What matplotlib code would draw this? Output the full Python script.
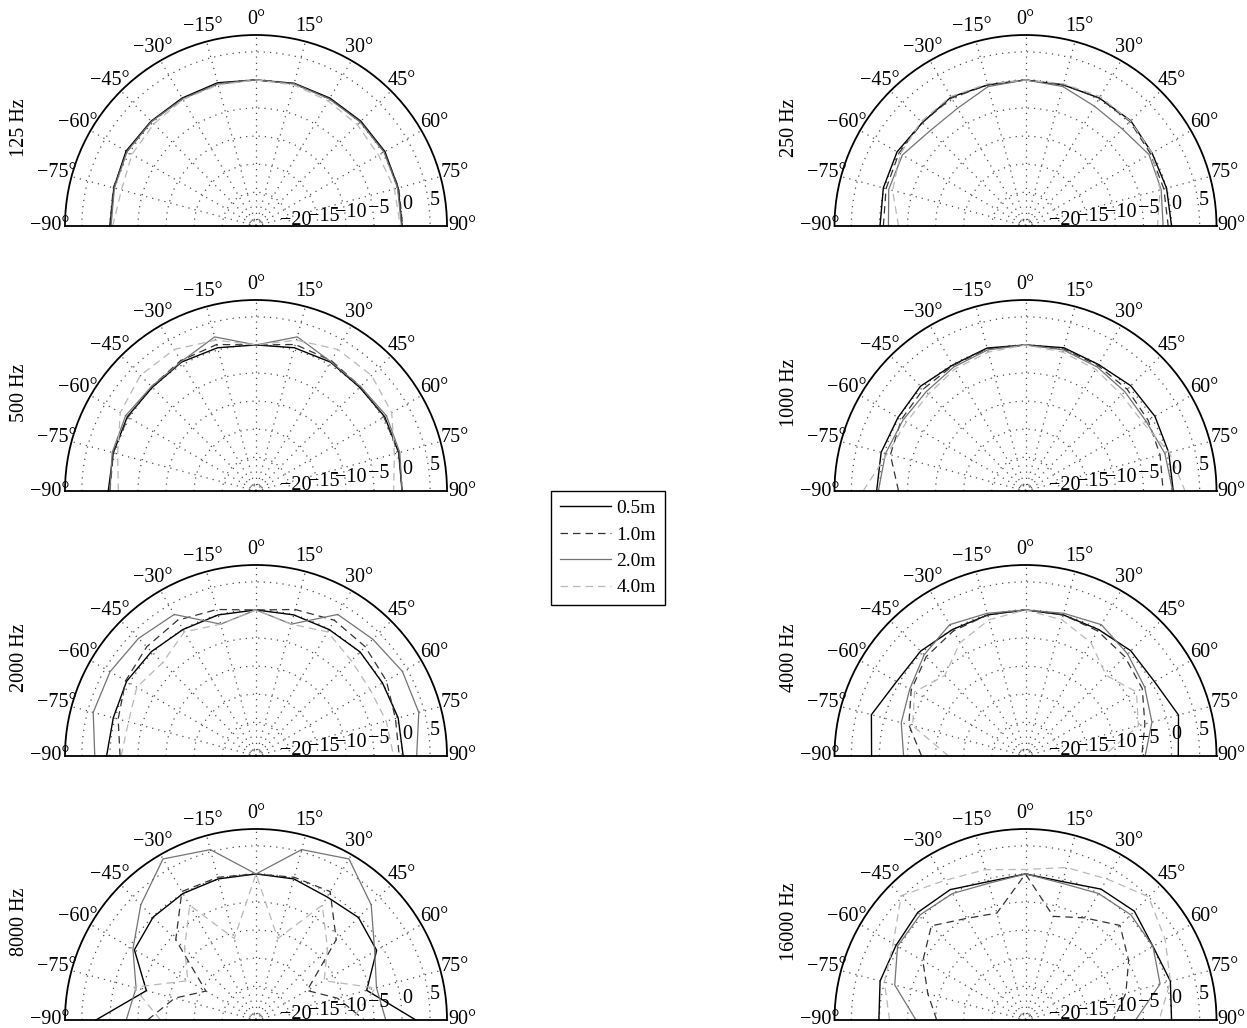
import numpy as np
import matplotlib
matplotlib.use("Agg")
import matplotlib.pyplot as plt
from matplotlib.lines import Line2D

plt.rcParams['font.family'] = ['Liberation Serif', 'DejaVu Serif']

# ---------------- data (dB, normalised at 0 deg) ----------------
angles_deg = [-90, -75, -60, -45, -30, -15, 0, 15, 30, 45, 60, 75, 90]
distances = ['0.5m', '1.0m', '2.0m', '4.0m']
freq_labels = ['125 Hz', '250 Hz', '500 Hz', '1000 Hz',
               '2000 Hz', '4000 Hz', '8000 Hz', '16000 Hz']

f125_05 = [0.0, 0.2, 0.7, 0.4, 0.3, 0.4, 0, 0.3, 0.3, 0.4, 0.5, 0.2, 0.0]
f125_10 = [0.0, 0.3, 0.5, 0.3, 0.2, 0.2, 0, 0.2, 0.2, 0.3, 0.4, 0.3, 0.1]
f125_20 = [-0.2, 0.1, 0.5, 0.3, 0.1, 0.2, 0, 0.2, 0.1, 0.2, 0.3, 0.1, -0.1]
f125_40 = [-0.5, -1.2, -0.5, -0.3, 0.0, 0.0, 0, 0.0, -0.3, -0.5, -0.8, -0.5, -0.3]

f250_05 = [-0.1, 0.2, 0.4, 0.0, 0.5, 0.0, 0, 0.0, 0.3, 0.5, 0.0, 0.0, 0.0]
f250_10 = [-0.7, -0.3, 0.0, 0.0, 0.3, 0.0, 0, 0.0, 0.3, 0.3, -0.3, -0.5, -0.6]
f250_20 = [-1.6, -0.8, -0.7, -2.0, -1.8, -0.3, 0, -0.3, -1.4, -1.6, -0.6, -1.0, -1.5]
f250_40 = [-3.4, -1.5, -0.3, 0.3, 0.6, 0.2, 0, 0.2, 0.6, 0.4, 0.0, -1.2, -2.5]

f500_05 = [0.3, 0.3, 0.45, 0.1, 0.5, 0.4, 0, 0.4, 0.5, 0.1, 0.45, 0.3, 0.0]
f500_10 = [0.0, 0.3, 0.3, 0.3, 0.8, 1.0, 0, 1.0, 0.8, 0.3, 0.3, 0.3, 0.0]
f500_20 = [0.0, 0.5, 0.8, 0.3, 0.6, 2.4, 0, 2.4, 0.6, 0.3, 0.8, 0.5, 0.0]
f500_40 = [-1.5, -0.5, 1.9, 3.1, 3.1, 1.8, 0, 1.8, 3.1, 3.1, 1.9, -0.5, -1.5]

f1000_05 = [0.5, 0.6, 0.2, 0.4, -0.1, 0.35, 0, 0.4, 0.0, 0.5, 0.6, 0.4, 0.3]
f1000_10 = [-3.4, -1.1, -0.5, -0.3, -0.2, 0.2, 0, 0.2, -0.2, -0.4, -0.8, -1.2, -1.5]
f1000_20 = [0.2, -0.2, -0.8, -1.0, -0.5, 0.0, 0, 0.0, -0.5, -1.0, -1.2, -0.3, 0.2]
f1000_40 = [2.9, -0.5, -1.5, -1.6, -0.9, -0.4, 0, -0.4, -1.0, -1.8, -1.8, 0.5, 2.4]

f2000_05 = [0.6, 0.3, 0.6, 0.3, 0.0, 0.0, 0, 0.0, 0.0, 0.2, 0.0, 0.2, 0.2]
f2000_10 = [-1.8, -0.6, 0.8, 1.5, 1.9, 1.0, 0, 1.0, 1.9, 1.5, 0.8, -0.3, -0.5]
f2000_20 = [2.7, 4.0, 4.0, 3.6, 3.1, -1.7, 0, -1.7, 3.1, 3.4, 4.1, 4.0, 2.6]
f2000_40 = [-2.0, -2.5, -1.5, -2.5, -0.5, -1.7, 0, -1.7, -0.5, -2.0, -2.5, -2.0, -1.5]

f4000_05 = [1.4, 2.4, 0.5, 0.4, 0.0, 0.0, 0, 0.0, 0.0, 0.5, 0.5, 2.2, 1.2]
f4000_10 = [-7.5, -4.5, -2.5, -1.0, -0.3, 0.0, 0, 0.0, -0.3, -1.0, -2.0, -4.0, -5.3]
f4000_20 = [-4.3, -3.1, -2.2, -0.5, 1.0, 0.3, 0, 0.3, 1.0, -0.3, -1.5, -2.7, -4.7]
f4000_40 = [-12.3, -5.2, -3.2, -5.7, -2.7, -0.9, 0, -0.9, -2.7, -5.7, -3.2, -5.2, -12.1]

f8000_05 = [2.5, -5.8, -1.0, -0.1, 0.0, 0.0, 0, 0.0, -0.7, -0.2, -1.2, -5.6, 2.45]
f8000_10 = [-6.7, -11.0, -15.7, -5.8, 0.4, 0.3, 0, 0.3, 0.4, -5.8, -15.5, -11.0, -6.7]
f8000_20 = [-2.9, -3.9, -0.7, 3.0, 7.1, 5.4, 0, 5.4, 7.1, 3.0, -1.6, -3.8, -2.9]
f8000_40 = [-9.0, -3.5, -12.0, -8.0, -2.4, -11.0, 0, -11.0, -2.4, -8.0, -12.0, -4.0, -9.0]

f16000_05 = [0.1, 0.8, 0.6, 1.1, 0.8, -0.5, 0, -0.5, 0.9, 1.4, 0.2, 0.7, 0.0]
f16000_10 = [-10.2, -8.0, -4.9, -2.3, -5.1, -6.3, 0, -6.9, -5.0, -2.2, -4.8, -7.5, -10.4]
f16000_20 = [-6.5, -1.9, 0.3, 0.5, 0.0, -0.8, 0, -0.8, 0.0, 0.5, 0.2, -1.2, -6.4]
f16000_40 = [-1.8, 0.0, 1.2, 5.3, 2.7, 1.7, 0.8, 2.1, 3.0, 5.0, 2.7, 0.7, -2.2]

series = [
    [f125_05, f125_10, f125_20, f125_40],
    [f250_05, f250_10, f250_20, f250_40],
    [f500_05, f500_10, f500_20, f500_40],
    [f1000_05, f1000_10, f1000_20, f1000_40],
    [f2000_05, f2000_10, f2000_20, f2000_40],
    [f4000_05, f4000_10, f4000_20, f4000_40],
    [f8000_05, f8000_10, f8000_20, f8000_40],
    [f16000_05, f16000_10, f16000_20, f16000_40],
]

r_ticks = [-20, -15, -10, -5, 0, 5]
theta_ticks = [-90, -75, -60, -45, -30, -15, 0, 15, 30, 45, 60, 75, 90]

# ---------------- styles ----------------
styles = [
    dict(color='k', lw=1.0, ls='-'),
    dict(color='0.2', lw=0.9, ls=(0, (6, 4))),
    dict(color='0.45', lw=0.9, ls='-'),
    dict(color='0.72', lw=0.9, ls=(0, (6, 4))),
]
RMIN, RMAX = -26, 8
FS = 14.5

W, H = 1247, 1028
col_cx = [256, 1025.5]
baselines = [226, 491, 756, 1020]
RPX = 191

fig = plt.figure(figsize=(W / 100, H / 100), dpi=100)

def minus(s):
    return s.replace('-', '\u2212')

th = np.deg2rad(angles_deg)
for i, (lab, data) in enumerate(zip(freq_labels, series)):
    row, col = divmod(i, 2)
    cx = col_cx[col]
    b = baselines[row]
    # square box: the half-disc is centred vertically inside it
    left = cx - RPX
    bottom_px = b + RPX / 2
    ax = fig.add_axes([left / W, 1 - bottom_px / H, 2 * RPX / W, 2 * RPX / H],
                      projection='polar')
    ax.set_theta_zero_location('N')
    ax.set_theta_direction(-1)
    ax.set_thetamin(-90)
    ax.set_thetamax(90)
    ax.set_ylim(RMIN, RMAX)
    ax.set_xticks(np.deg2rad(theta_ticks))
    ax.set_xticklabels([])
    ax.set_yticks([-25] + r_ticks)
    ax.set_yticklabels([])
    ax.grid(True, color='0.3', lw=0.9, ls=(0, (1, 4)))
    ax.tick_params(axis='x', direction='in', length=5, width=1.0, colors='k', pad=0)
    ax.tick_params(axis='y', length=0)
    for sp in ax.spines.values():
        sp.set_color('k')
        sp.set_linewidth(1.3)
    for vals, st in zip(data, styles):
        ax.plot(th, vals, color=st['color'], lw=st['lw'], ls=st['ls'], clip_on=False)
    # angle labels
    for t in theta_ticks:
        ax.text(np.deg2rad(t), 10.7, minus(f'{t}\u00b0'), ha='center', va='center',
                fontsize=FS, clip_on=False)
    # radial labels
    for rv in r_ticks:
        ax.text(np.deg2rad(82), rv + 1.1, minus(str(rv)), ha='center', va='center',
                fontsize=FS, clip_on=False)
    # frequency label
    fig.text((cx - RPX - 45) / W, 1 - (b - 98) / H, lab, rotation=90, ha='center',
             va='center', fontsize=FS)

handles = [Line2D([], [], color=st['color'], lw=st['lw'], ls=st['ls']) for st in styles]
leg = fig.legend(handles, distances, loc='center', bbox_to_anchor=(608 / W, 1 - 548 / H),
                 fontsize=14, frameon=True, fancybox=False, edgecolor='k', framealpha=1,
                 handlelength=2.6, handletextpad=0.3, labelspacing=0.45, borderpad=0.45)
leg.get_frame().set_linewidth(1.0)

fig.savefig('out.png', dpi=100)
